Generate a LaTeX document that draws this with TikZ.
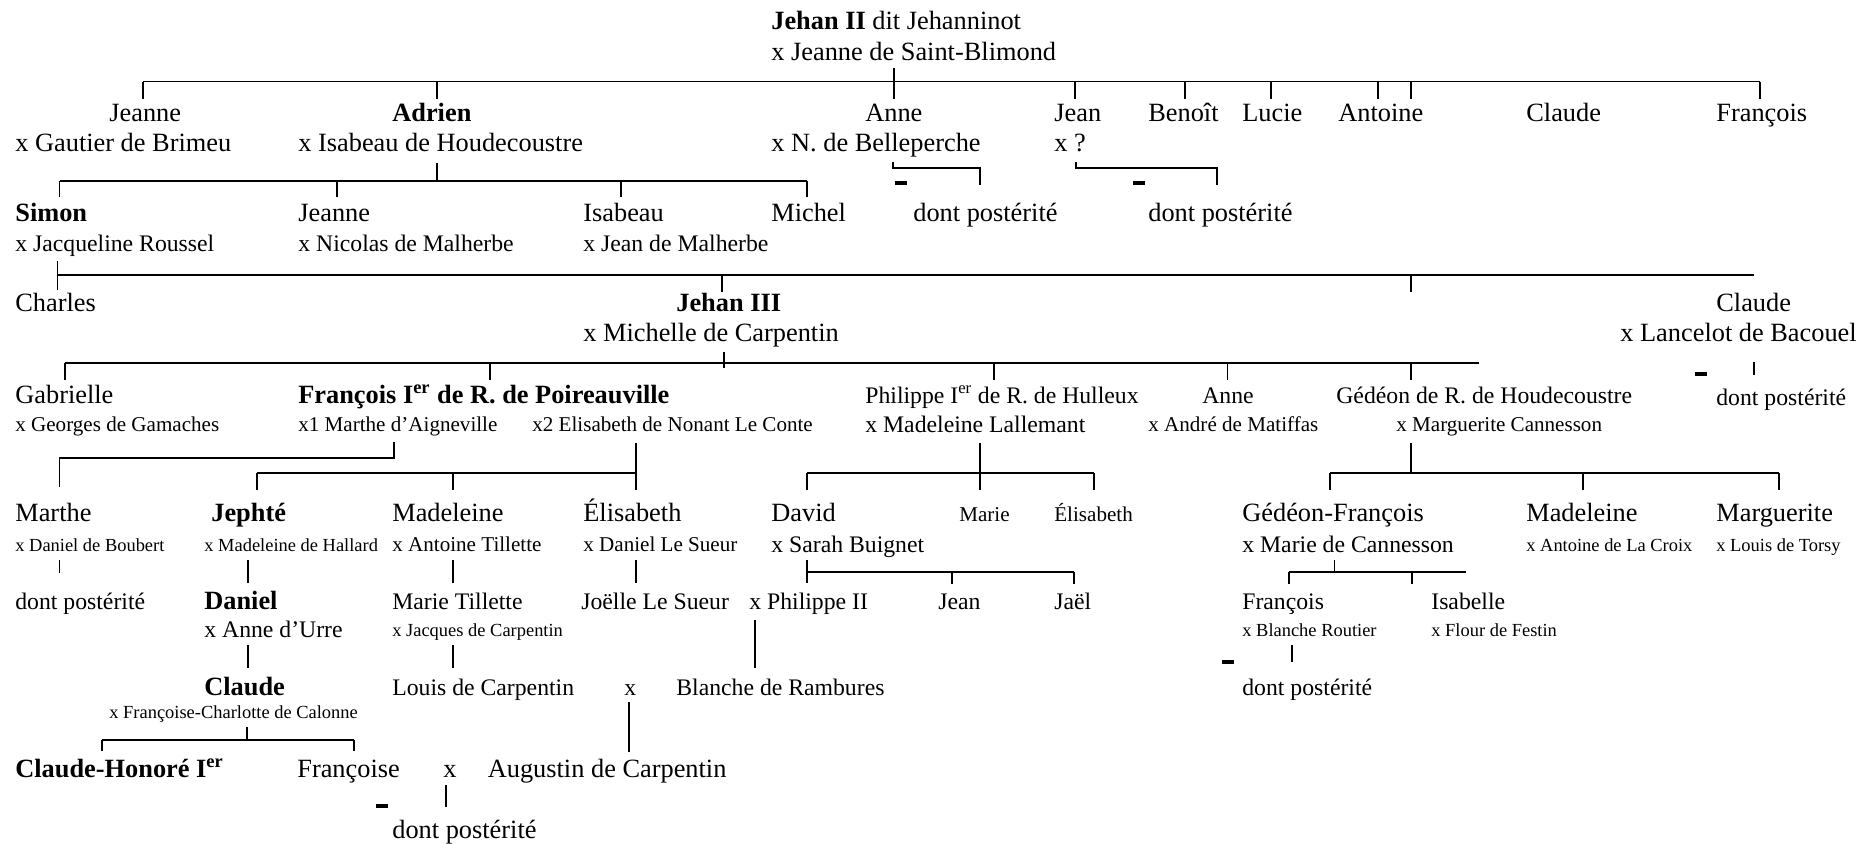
\documentclass[tikz,border=0pt]{standalone}
\usepackage{fontspec}
\setmainfont{Liberation Serif}
\begin{document}
\begin{tikzpicture}[x=0.02cm, y=-0.02cm,
    lg/.style={anchor=base west, inner sep=0pt, font=\fontsize{15}{18}\selectfont},
    md/.style={lg, font=\fontsize{13.5}{16}\selectfont},
    sm/.style={lg, font=\fontsize{12}{14}\selectfont},
    tn/.style={lg, font=\fontsize{10.5}{12}\selectfont},
    bar/.style={line width=1pt},
    tick/.style={line width=0.7pt},
    minusbar/.style={line width=2.2pt}]
    \useasboundingbox (0,0) rectangle (1863,843);

    % generation of Jehan II
    \node[lg] (jehan2) at (771,29.3) {\textbf{Jehan II} dit Jehanninot};
    \node[lg] (jehan2x) at (771,60) {x Jeanne de Saint-Blimond};

    \node[lg] (jeanne1) at (109,121.5) {Jeanne};
    \node[lg] (jeanne1x) at (15,151.5) {x Gautier de Brimeu};
    \node[lg] (adrien) at (392,121.5) {\textbf{Adrien}};
    \node[lg] (adrienx) at (298,151.5) {x Isabeau de Houdecoustre};
    \node[lg] (anne1) at (865,121.5) {Anne};
    \node[lg] (anne1x) at (771,151.5) {x N. de Belleperche};
    \node[lg] (jean1) at (1054,121.5) {Jean};
    \node[lg] (jean1x) at (1054,151.5) {x ?};
    \node[lg] (benoit) at (1148,121.5) {Benoît};
    \node[lg] (lucie) at (1242,121.5) {Lucie};
    \node[lg] (antoine) at (1338,121.5) {Antoine};
    \node[lg] (claude1) at (1526,121.5) {Claude};
    \node[lg] (francois1) at (1716,121.5) {François};
    \node[lg] (anne1d) at (913,221) {dont postérité};
    \node[lg] (jean1d) at (1148,221) {dont postérité};

    % children of Adrien
    \node[lg] (simon) at (15,221) {\textbf{Simon}};
    \node[md] (simonx) at (15,251) {x Jacqueline Roussel};
    \node[lg] (jeanne2) at (298,221) {Jeanne};
    \node[md] (jeanne2x) at (298,251) {x Nicolas de Malherbe};
    \node[lg] (isabeau) at (583,221) {Isabeau};
    \node[md] (isabeaux) at (583,251) {x Jean de Malherbe};
    \node[lg] (michel) at (771,221) {Michel};

    % children of Simon
    \node[lg] (charles) at (15,311) {Charles};
    \node[lg] (jehan3) at (676,311) {\textbf{Jehan III}};
    \node[lg] (jehan3x) at (583,341) {x Michelle de Carpentin};
    \node[lg] (claude3) at (1716,311) {Claude};
    \node[lg] (claude3x) at (1620,341) {x Lancelot de Bacouel};
    \node[md] (claude3d) at (1716,405) {dont postérité};

    % children of Jehan III
    \node[lg] (gabrielle) at (15,403) {Gabrielle};
    \node[sm] (gabriellex) at (15,431) {x Georges de Gamaches};
    \node[lg] (francois4) at (298,403) {\textbf{François I\textsuperscript{er} de R. de Poireauville}};
    \node[sm] (francois4x1) at (298,431) {x1 Marthe d’Aigneville};
    \node[sm] (francois4x2) at (532,431) {x2 Elisabeth de Nonant Le Conte};
    \node[md] (philippe) at (865,403) {Philippe I\textsuperscript{er} de R. de Hulleux};
    \node[md] (philippex) at (865,432) {x Madeleine Lallemant};
    \node[md] (anne4) at (1202,403) {Anne};
    \node[sm] (anne4x) at (1148,431) {x André de Matiffas};
    \node[md] (gedeon) at (1336,403) {Gédéon de R. de Houdecoustre};
    \node[sm] (gedeonx) at (1396,431) {x Marguerite Cannesson};

    % grandchildren of Jehan III
    \node[lg] (marthe) at (15,521) {Marthe};
    \node[tn] (marthex) at (15,551) {x Daniel de Boubert};
    \node[lg] (jephte) at (211,521) {\textbf{Jephté}};
    \node[tn] (jephtex) at (204,551) {x Madeleine de Hallard};
    \node[lg] (madeleine5) at (392,521) {Madeleine};
    \node[sm] (madeleine5x) at (392,551) {x Antoine Tillette};
    \node[lg] (elisabeth5) at (583,521) {Élisabeth};
    \node[sm] (elisabeth5x) at (583,551) {x Daniel Le Sueur};
    \node[lg] (david) at (771,521) {David};
    \node[md] (davidx) at (771,552) {x Sarah Buignet};
    \node[sm] (marie5) at (959,521) {Marie};
    \node[sm] (elisabeth5b) at (1054,521) {Élisabeth};
    \node[lg] (gedfr) at (1242,521) {Gédéon-François};
    \node[md] (gedfrx) at (1242,552) {x Marie de Cannesson};
    \node[lg] (madeleine5b) at (1526,521) {Madeleine};
    \node[tn] (madeleine5bx) at (1526,551) {x Antoine de La Croix};
    \node[lg] (marguerite) at (1716,521) {Marguerite};
    \node[tn] (margueritex) at (1716,551) {x Louis de Torsy};

    \node[md] (marthed) at (15,609.5) {dont postérité};
    \node[lg] (daniel) at (204,609.5) {\textbf{Daniel}};
    \node[md] (danielx) at (204,637) {x Anne d’Urre};
    \node[md] (marietil) at (392,609.5) {Marie Tillette};
    \node[tn] (marietilx) at (392,636) {x Jacques de Carpentin};
    \node[md] (joelle) at (581,609.5) {Joëlle Le Sueur};
    \node[md] (philippe2) at (749,609.5) {x Philippe II};
    \node[md] (jean6) at (938,609.5) {Jean};
    \node[md] (jael) at (1054,609.5) {Jaël};
    \node[md] (francois6) at (1242,609.5) {François};
    \node[tn] (francois6x) at (1242,636) {x Blanche Routier};
    \node[md] (isabelle) at (1431,609.5) {Isabelle};
    \node[tn] (isabellex) at (1431,636) {x Flour de Festin};
    \node[md] (francois6d) at (1242,695.5) {dont postérité};

    \node[lg] (claude7) at (204,695.5) {\textbf{Claude}};
    \node[tn] (claude7x) at (109,718) {x Françoise-Charlotte de Calonne};
    \node[md] (louis) at (392,695.5) {Louis de Carpentin};
    \node[md] (louisx) at (624,695.5) {x};
    \node[md] (blanche) at (676,695.5) {Blanche de Rambures};

    \node[lg] (claudehon) at (15,777) {\textbf{Claude-Honoré I\textsuperscript{er}}};
    \node[lg] (francoise) at (297,777) {Françoise};
    \node[lg] (francoisex) at (443,777) {x};
    \node[lg] (augustin) at (487.5,777) {Augustin de Carpentin};
    \node[lg] (francoised) at (392,838) {dont postérité};

    % connector ends
    \coordinate (b0w) at (143,81.5);   \coordinate (b0e) at (1760,81.5);
    \coordinate (jehan2x-dn) at (894,68);
    \coordinate (anne1-up) at (894,99);
    \coordinate (jeanne1-up) at (143,99);
    \coordinate (adrien-up) at (437,99);
    \coordinate (jean1-up) at (1075,99);
    \coordinate (benoit-up) at (1185,99);
    \coordinate (lucie-up) at (1271,99);
    \coordinate (antoine-up) at (1378,99);
    \coordinate (extra0-up) at (1411,99);
    \coordinate (francois1-up) at (1760,99);
    \coordinate (anne1x-dn) at (893,162);   \coordinate (anne1d-up) at (980,185);
    \coordinate (jean1x-dn) at (1076,162);  \coordinate (jean1d-up) at (1217,185);

    \coordinate (b1w) at (59.5,181);   \coordinate (b1e) at (807,181);
    \coordinate (adrienx-dn) at (437,163);
    \coordinate (simon-up) at (59.5,197);
    \coordinate (jeanne2-up) at (337,197);
    \coordinate (isabeau-up) at (621,197);
    \coordinate (michel-up) at (807,197);

    \coordinate (b2w) at (57.7,275);   \coordinate (b2e) at (1754,275);
    \coordinate (simonx-dn) at (57.7,261);  \coordinate (charles-up) at (57.7,290);
    \coordinate (jehan3-up) at (722,292);
    \coordinate (extra2-up) at (1411,292);
    \coordinate (claude3x-dn) at (1754,362); \coordinate (claude3d-up) at (1754,375);

    \coordinate (b3w) at (65,363);     \coordinate (b3e) at (1479,363);
    \coordinate (jehan3x-dn) at (724,352);
    \coordinate (gabrielle-up) at (65,380);
    \coordinate (francois4-up) at (490,380);
    \coordinate (philippe-up) at (994,380);
    \coordinate (anne4-up) at (1227.5,380);
    \coordinate (gedeon-up) at (1411,380);

    \coordinate (francois4x1-dn) at (394,442); \coordinate (marthe-up) at (59.5,487);
    \coordinate (b4w) at (257,473);
    \coordinate (francois4x2-dn) at (636,443); \coordinate (elisabeth5-up) at (636,490);
    \coordinate (jephte-up) at (257,490);
    \coordinate (madeleine5-up) at (453,490);
    \coordinate (b5w) at (807,473);    \coordinate (b5e) at (1094,473);
    \coordinate (philippex-dn) at (980,443);   \coordinate (marie5-up) at (980,490);
    \coordinate (david-up) at (807,490);
    \coordinate (elisabeth5b-up) at (1094,490);
    \coordinate (b6w) at (1330,473);   \coordinate (b6e) at (1779,473);
    \coordinate (gedeonx-dn) at (1411,443);
    \coordinate (gedfr-up) at (1330,490);
    \coordinate (madeleine5b-up) at (1583,490);
    \coordinate (marguerite-up) at (1779,490);

    \coordinate (marthex-dn) at (59.5,560);   \coordinate (marthed-up) at (59.5,573);
    \coordinate (jephtex-dn) at (248,560);    \coordinate (daniel-up) at (248,583);
    \coordinate (madeleine5x-dn) at (453,560); \coordinate (marietil-up) at (453,583);
    \coordinate (elisabeth5x-dn) at (636,560); \coordinate (joelle-up) at (636,583);
    \coordinate (davidx-dn) at (807,560);     \coordinate (philippe2-up) at (807,583);
    \coordinate (b7e) at (1074,572);
    \coordinate (jean6-up) at (952,584);
    \coordinate (jael-up) at (1074,584);
    \coordinate (b8w) at (1289,572);   \coordinate (b8e) at (1466,572);
    \coordinate (gedfrx-dn) at (1334.5,560);
    \coordinate (francois6-up) at (1289,584);
    \coordinate (isabelle-up) at (1412,584);

    \coordinate (danielx-dn) at (248,645);    \coordinate (claude7-up) at (248,668);
    \coordinate (marietilx-dn) at (453,645);  \coordinate (louis-up) at (453,668);
    \coordinate (philippe2-dn) at (755,620);  \coordinate (blanche-up) at (755,668);
    \coordinate (francois6x-dn) at (1292,645); \coordinate (francois6d-up) at (1292,662);

    \coordinate (louisx-dn) at (629,702);     \coordinate (augustin-up) at (629,752);
    \coordinate (b9w) at (102,740);    \coordinate (b9e) at (354,740);
    \coordinate (claude7x-dn) at (247,727);
    \coordinate (claudehon-up) at (102,751);
    \coordinate (francoise-up) at (354,751);
    \coordinate (francoisex-dn) at (446,785); \coordinate (francoised-up) at (446,807);

    % bars and ticks
    \draw[bar] (b0w) -- (b0e);
    \draw[tick] (jehan2x-dn) -- (anne1-up);
    \foreach \c in {jeanne1-up, adrien-up, jean1-up, benoit-up, lucie-up, antoine-up, extra0-up, francois1-up}
        \draw[tick] (\c |- b0w) -- (\c);
    \draw[bar] (anne1x-dn) -- ++(0,6) -| (anne1d-up);
    \draw[bar] (jean1x-dn) -- ++(0,6) -| (jean1d-up);

    \draw[bar] (b1w) -- (b1e);
    \draw[tick] (adrienx-dn) -- (adrienx-dn |- b1w);
    \foreach \c in {simon-up, jeanne2-up, isabeau-up, michel-up}
        \draw[tick] (\c |- b1w) -- (\c);

    \draw[bar] (b2w) -- (b2e);
    \draw[tick] (simonx-dn) -- (charles-up);
    \foreach \c in {jehan3-up, extra2-up}
        \draw[tick] (\c |- b2w) -- (\c);
    \draw[tick] (claude3x-dn) -- (claude3d-up);

    \draw[bar] (b3w) -- (b3e);
    \draw[tick] (jehan3x-dn) -- ++(0,16);
    \foreach \c in {gabrielle-up, francois4-up, philippe-up, anne4-up, gedeon-up}
        \draw[tick] (\c |- b3w) -- (\c);

    \draw[bar] (francois4x1-dn) -- ++(0,16) -| (marthe-up);
    \draw[bar] (b4w) -- (b4w -| francois4x2-dn);
    \draw[tick] (francois4x2-dn) -- (elisabeth5-up);
    \foreach \c in {jephte-up, madeleine5-up}
        \draw[tick] (\c |- b4w) -- (\c);
    \draw[bar] (b5w) -- (b5e);
    \draw[tick] (philippex-dn) -- (marie5-up);
    \foreach \c in {david-up, elisabeth5b-up}
        \draw[tick] (\c |- b5w) -- (\c);
    \draw[bar] (b6w) -- (b6e);
    \draw[tick] (gedeonx-dn) -- (gedeonx-dn |- b6w);
    \foreach \c in {gedfr-up, madeleine5b-up, marguerite-up}
        \draw[tick] (\c |- b6w) -- (\c);

    \draw[tick] (marthex-dn) -- (marthed-up);
    \draw[tick] (jephtex-dn) -- (daniel-up);
    \draw[tick] (madeleine5x-dn) -- (marietil-up);
    \draw[tick] (elisabeth5x-dn) -- (joelle-up);
    \draw[tick] (davidx-dn) -- (philippe2-up);
    \draw[bar] (davidx-dn |- b7e) -- (b7e);
    \foreach \c in {jean6-up, jael-up}
        \draw[tick] (\c |- b7e) -- (\c);
    \draw[bar] (b8w) -- (b8e);
    \draw[tick] (gedfrx-dn) -- (gedfrx-dn |- b8w);
    \foreach \c in {francois6-up, isabelle-up}
        \draw[tick] (\c |- b8w) -- (\c);

    \draw[tick] (danielx-dn) -- (claude7-up);
    \draw[tick] (marietilx-dn) -- (louis-up);
    \draw[tick] (philippe2-dn) -- (blanche-up);
    \draw[tick] (francois6x-dn) -- (francois6d-up);

    \draw[tick] (louisx-dn) -- (augustin-up);
    \draw[bar] (b9w) -- (b9e);
    \draw[tick] (claude7x-dn) -- (claude7x-dn |- b9w);
    \foreach \c in {claudehon-up, francoise-up}
        \draw[tick] (\c |- b9w) -- (\c);
    \draw[tick] (francoisex-dn) -- (francoised-up);

    % short marks before the lines of descent
    \draw[minusbar] (895,183) -- (907,183);
    \draw[minusbar] (1133,183) -- (1145,183);
    \draw[minusbar] (1695,374) -- (1707,374);
    \draw[minusbar] (1221.5,662) -- (1234,662);
    \draw[minusbar] (376,806) -- (388,806);
\end{tikzpicture}
\end{document}
